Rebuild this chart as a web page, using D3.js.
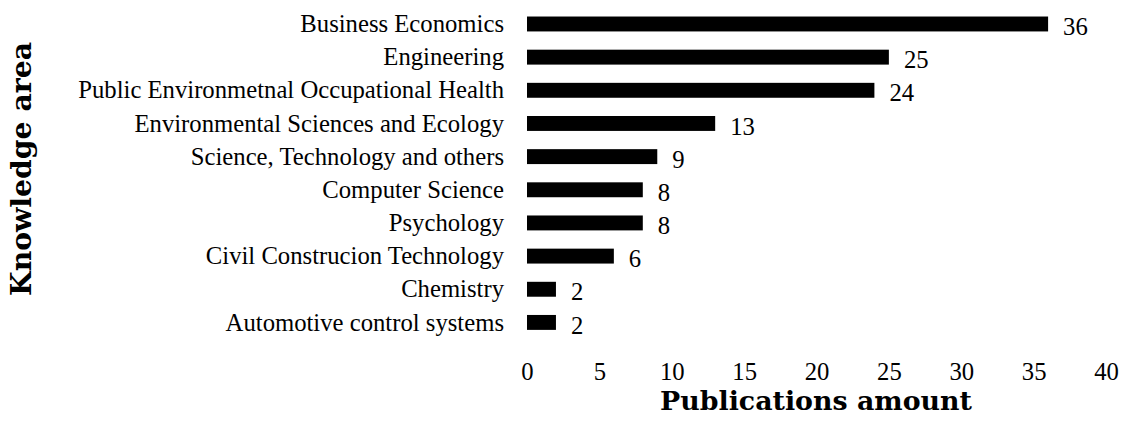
<!DOCTYPE html>
<html><head><meta charset="utf-8">
<script src="https://cdn.jsdelivr.net/npm/d3@7"></script>
<style>body{margin:0;background:#fff}svg{display:block}</style>
</head><body>
<svg id="c" width="1129" height="422"></svg>
<script>
const categories = ["Business Economics","Engineering","Public Environmetnal Occupational Health","Environmental Sciences and Ecology","Science, Technology and others","Computer Science","Psychology","Civil Construcion Technology","Chemistry","Automotive control systems"];
const values = [36,25,24,13,9,8,8,6,2,2];
const xTicks = [0,5,10,15,20,25,30,35,40];
const xTitle = "Publications amount";
const yTitle = "Knowledge area";

const svg = d3.select("#c");
const font = "'Liberation Serif', 'Times New Roman', serif";
const tfont = "'DejaVu Serif', Georgia, serif";
const x = d3.scaleLinear().domain([0,40]).range([527,1106]);
const y = d3.scaleBand().domain(categories).range([7.4,339]).paddingInner(0.55).paddingOuter(0.275);

function fit(text, fam, weight, target){
  const p = svg.append("text").attr("font-family",fam).attr("font-weight",weight).attr("font-size",20).text(text);
  const w = p.node().getComputedTextLength();
  p.remove();
  return 20*target/w;
}
const fs = fit(categories[2], font, "normal", 426);
const fsX = fit(xTitle, tfont, "bold", 312);
const fsY = fit(yTitle, tfont, "bold", 254);
const fsN = fs*1.0;

svg.append("g").selectAll("rect").data(values).join("rect")
  .attr("x",x(0)).attr("y",(d,i)=>y(categories[i]))
  .attr("width",d=>x(d)-x(0)).attr("height",y.bandwidth()).attr("fill","#000");

svg.append("g").selectAll("text").data(categories).join("text")
  .attr("x",x(0)-23).attr("y",d=>y(d)+y.bandwidth()/2)
  .attr("dy","0.33em").attr("text-anchor","end")
  .attr("font-family",font).attr("font-size",fs).attr("fill","#000").text(d=>d);

svg.append("g").selectAll("text").data(values).join("text")
  .attr("x",d=>x(d)+15).attr("y",(d,i)=>y(categories[i])+y.bandwidth()/2+3)
  .attr("dy","0.33em").attr("font-family",font).attr("font-size",fsN).attr("fill","#000").text(d=>d);

const ax = d3.axisBottom(x).tickValues(xTicks).tickSize(0).tickPadding(0);
const g = svg.append("g").attr("transform","translate(0,362)").call(ax);
g.select(".domain").remove();
g.selectAll("text").attr("font-family",font).attr("font-size",fsN).attr("fill","#000").attr("dy","0.71em");

svg.append("text").attr("x",816).attr("y",410).attr("text-anchor","middle")
  .attr("font-family",tfont).attr("font-weight","bold").attr("font-size",fsX).attr("fill","#000").text(xTitle);
svg.append("text").attr("transform","translate(31,169) rotate(-90)").attr("text-anchor","middle")
  .attr("font-family",tfont).attr("font-weight","bold").attr("font-size",fsY).attr("fill","#000").text(yTitle);
</script>
</body></html>
